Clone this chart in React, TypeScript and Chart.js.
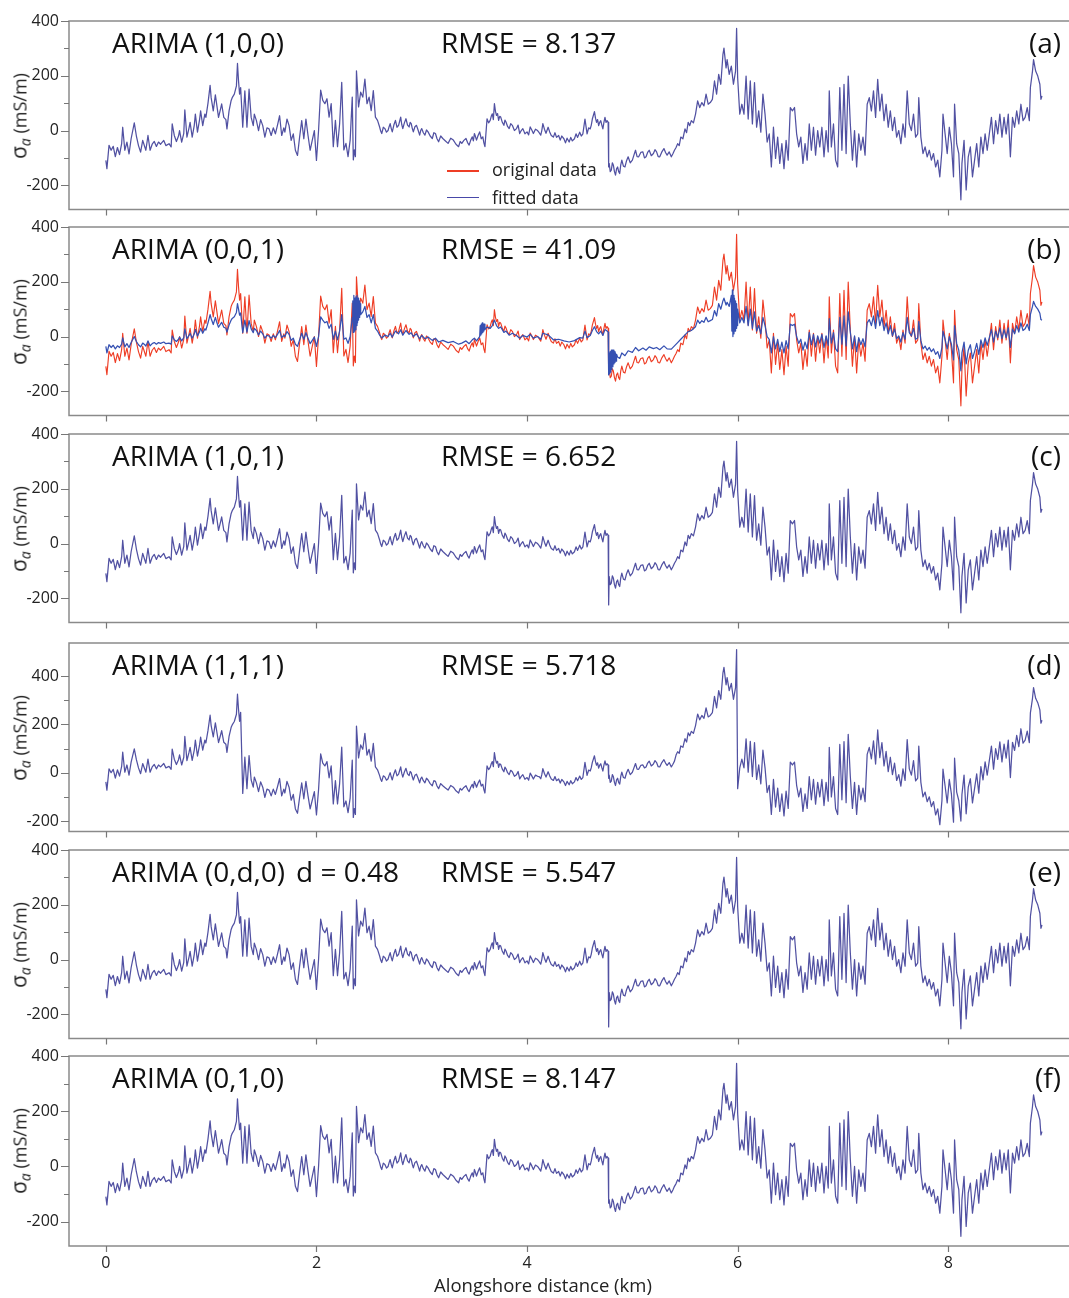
import React, { useEffect, useRef } from "react";
import { Chart, registerables } from "chart.js";

Chart.register(...registerables);

// Alongshore distance (km) of the measured series and of the fitted series in (a), (c)-(f)
const distanceKm = [
  0, 0.01, 0.03, 0.05, 0.07, 0.09, 0.11, 0.13, 0.15, 0.16, 0.18, 0.2, 0.22, 0.24, 0.27, 0.29, 0.31, 0.33, 0.35, 0.37, 0.38, 0.4, 0.42, 0.44, 0.46, 0.48, 0.5, 0.52, 0.55, 0.57, 0.6, 0.62, 0.63, 0.65, 0.67, 0.69, 0.7, 0.72, 0.74, 0.75, 0.77, 0.79, 0.8, 0.82, 0.84, 0.85, 0.87, 0.89, 0.9, 0.92, 0.94, 0.95, 0.97, 0.99,
  1, 1.02, 1.04, 1.05, 1.07, 1.09, 1.1, 1.12, 1.14, 1.15, 1.17, 1.19, 1.2, 1.22, 1.24, 1.25, 1.26, 1.27, 1.28, 1.3, 1.32, 1.34, 1.36, 1.38, 1.4, 1.41, 1.43, 1.45, 1.47, 1.49, 1.51, 1.53, 1.55, 1.57, 1.59, 1.61, 1.63, 1.65, 1.67, 1.69, 1.7, 1.72, 1.74, 1.76, 1.78, 1.8, 1.82, 1.84, 1.86, 1.88, 1.9, 1.92, 1.94, 1.96, 1.98,
  2, 2.02, 2.04, 2.06, 2.08, 2.1, 2.12, 2.14, 2.16, 2.18, 2.2, 2.22, 2.24, 2.26, 2.28, 2.3, 2.32, 2.34,
  2.35, 2.36, 2.37,
  2.38, 2.4, 2.42, 2.44, 2.46, 2.48, 2.5, 2.52, 2.54, 2.56, 2.58, 2.6, 2.61, 2.62, 2.635, 2.65, 2.665, 2.68, 2.69, 2.7, 2.71, 2.72, 2.735, 2.75, 2.765, 2.78, 2.79, 2.8, 2.81, 2.82, 2.835, 2.85, 2.865, 2.88, 2.89, 2.9, 2.91, 2.92, 2.935, 2.95, 2.965, 2.98, 2.99, 3, 3.015, 3.03, 3.045, 3.06, 3.08, 3.1, 3.115, 3.13, 3.145, 3.16, 3.18, 3.2, 3.225, 3.25, 3.275, 3.3, 3.325, 3.35, 3.365, 3.38, 3.4, 3.42, 3.435, 3.45, 3.465, 3.48, 3.49, 3.5, 3.51, 3.52, 3.535, 3.55, 3.565, 3.58, 3.59, 3.6,
  3.62, 3.635, 3.65, 3.66, 3.67, 3.68, 3.69, 3.7, 3.71, 3.72, 3.73, 3.74, 3.75, 3.765, 3.78, 3.79, 3.8, 3.815, 3.83, 3.845, 3.86, 3.88, 3.9, 3.915, 3.93, 3.945, 3.96, 3.98, 4, 4.015, 4.03, 4.045, 4.06, 4.08, 4.1, 4.115, 4.13, 4.14, 4.15, 4.165, 4.18, 4.2, 4.215, 4.23, 4.25, 4.265, 4.28, 4.3, 4.315, 4.33, 4.35, 4.365, 4.38, 4.4, 4.415, 4.43, 4.45, 4.465, 4.48, 4.5, 4.515, 4.53, 4.55, 4.57, 4.585, 4.6, 4.61, 4.62, 4.64, 4.65, 4.66, 4.67, 4.68, 4.69, 4.7, 4.71, 4.72, 4.73, 4.74, 4.75, 4.76, 4.77,
  4.775, 4.78, 4.79, 4.8, 4.81, 4.82, 4.83, 4.84, 4.85, 4.86, 4.87, 4.88, 4.89, 4.9, 4.915, 4.93, 4.945, 4.96, 4.98, 5, 5.015, 5.03, 5.045, 5.06, 5.08, 5.1, 5.115, 5.13, 5.145, 5.16, 5.18, 5.2, 5.215, 5.23, 5.245, 5.26, 5.28, 5.3, 5.315, 5.33, 5.35, 5.37, 5.385, 5.4, 5.415, 5.43, 5.445, 5.46, 5.48, 5.5, 5.515, 5.53, 5.545, 5.56, 5.58, 5.6,
  5.62, 5.64, 5.66, 5.68, 5.7, 5.72, 5.74, 5.76, 5.78, 5.8, 5.82, 5.84, 5.86, 5.87, 5.89, 5.9, 5.92, 5.94, 5.96, 5.98, 5.99,
  6, 6.02, 6.04, 6.06, 6.08, 6.1, 6.12, 6.14, 6.16, 6.18, 6.2, 6.22, 6.24, 6.26, 6.28, 6.3, 6.32, 6.34, 6.36, 6.38, 6.4, 6.42, 6.44, 6.46, 6.48, 6.5, 6.52, 6.54, 6.56, 6.58, 6.6, 6.62, 6.64, 6.66, 6.68, 6.7, 6.72, 6.74, 6.76, 6.78, 6.8, 6.82, 6.84, 6.86,
  6.87, 6.89, 6.91, 6.93, 6.95, 6.97, 6.99, 7.01, 7.03, 7.05, 7.07, 7.09, 7.11, 7.13, 7.15, 7.17, 7.19, 7.21,
  7.23, 7.25, 7.27, 7.29, 7.31, 7.33, 7.35, 7.37, 7.39, 7.41, 7.43, 7.45, 7.47, 7.49, 7.51, 7.53, 7.55, 7.57, 7.59, 7.61, 7.63, 7.65, 7.67, 7.69, 7.71,
  7.72, 7.74, 7.76, 7.78, 7.8, 7.82, 7.84, 7.86, 7.88, 7.9, 7.92, 7.94,
  7.95, 7.97, 7.99, 8.01, 8.03, 8.05,
  8.06, 8.08, 8.1, 8.12,
  8.13, 8.15, 8.17, 8.19, 8.21, 8.23, 8.25, 8.27, 8.29, 8.31, 8.33, 8.35, 8.37, 8.39, 8.41, 8.43, 8.45, 8.47, 8.49, 8.51, 8.53, 8.55, 8.57, 8.59, 8.61, 8.63, 8.65, 8.67, 8.69, 8.71, 8.73, 8.75, 8.77,
  8.78, 8.8, 8.81, 8.83, 8.85, 8.87, 8.88, 8.89,
];

// Original apparent conductivity (mS/m); the fitted series of (a), (c), (e), (f) coincide with it
const originalData = [
  -109, -139, -54, -72, -58, -95, -62, -88, -48, 12, -72, -42, -85, -30, 28, -20, -55, -79, -36, -60, -72, -18, -72, -50, -40, -58, -42, -50, -36, -55, -48, -60, 24, -18, -40, -20, 0, -42, -10, 75, -24, 10, 30, -24, 20, 60, -6, 40, 72, 18, 60, 48, 100, 165,
  120, 72, 130, 103, 48, 80, 97, 48, 40, 6, 72, 110, 120, 133, 163, 245, 181, 133, 157, 12, 145, 12, 151, 48, 18, 60, 36, 0, 40, 18, -24, 10, 6, -18, 10, -12, 20, 54, -18, 10, -6, 42, 18, -36, -12, -72, -91, -24, 36, -30, 42, -18, -72, -36, 0,
  -109, 0, 148, 110, 98, 116, 49, 98, -59, 37, -59, 25, 176, -71, -47, -95, -35, 122,
  -107, -71, -95,
  218, 86, 140, 122, 188, 98, 122, 73, 146, 49, 37, 13, -2, -11, 12, 7, -6, 0, 14, 25, 8, -5, 20, 37, 12, 19, 34, 49, 22, 7, 28, 43, 20, 13, 30, 25, 8, -5, 14, 19, 2, -17, 0, 7, -8, -17, 2, -5, -20, -29, -8, -11, -30, -41, -20, -29, -38, -47, -28, -35, -50, -59, -40, -47, -36, -29, -44, -53, -35, -23, -38, -11, -22, -35, -18, -5, -30, -23, -45, -59,
  43, 28, 37, 52, 61, 40, 98, 70, 55, 62, 37, 52, 49, 30, 19, 38, 31, 15, 7, 25, 19, 0, 7, 20, -11, 0, 7, -12, -5, -16, 13, 2, -11, 5, 0, -8, -17, 0, 25, 5, -10, 12, -5, -18, -24, -8, -25, -18, -35, -20, -30, -45, -28, -42, -25, -38, -30, -12, -25, -6, -20, -12, 42, -12, 10, 6, 20, 42, 69, 45, 30, 40, 18, 30, 36, 20, 6, 30, 48, 30, 36, 30,
  -133, -120, -150, -145, -118, -127, -150, -163, -140, -133, -150, -157, -125, -108, -130, -133, -110, -96, -118, -108, -90, -72, -95, -96, -80, -78, -100, -96, -80, -72, -92, -84, -70, -78, -95, -96, -78, -66, -80, -90, -78, -96, -85, -72, -62, -48, -55, -24, -30, 6, -8, 30, 18, 36, 28, 60,
  108, 84, 102, 90, 133, 96, 102, 114, 181, 133, 205, 169, 277, 301, 229, 259, 205, 235, 169, 217, 373,
  193, 60, 96, 60, 199, 42, 181, 24, 175, 12, 72, -6, 133, 60, -42, -12, -133, 12, -102, -24, -120, -48, -139, -36, -108, 84, 72, 84, -12, -60, -24, -120, -48, -108, 24, -72, 12, -90, 0, -60, 12, -96, 0, -78,
  145, -60, 24, -108, -133, 157, -72, 169, -84, 199, 24, -108, 0, -133, -12, -72, -24, -90,
  96, 120, 72, 145, 48, 187, 72, 133, 36, 96, 12, 72, 0, 48, -24, 0, -48, 24, -24, 145, 24, 0, 60, -24, -12,
  120, -24, -84, -60, -96, -72, -108, -84, -133, -108, -169, -72,
  60, -12, -84, 12, -48, -169,
  96, -48, -84, -253,
  -120, -36, -217, -96, -60, -169, -108, -48, -133, -24, -84, -12, -72, -12, 48, -48, 36, -12, 60, -24, 48, -12, 60, -96, 48, 12, 72, 24, 96, 36, 48, 84, 36,
  157, 217, 259, 217, 199, 169, 114, 126,
];

// ARIMA (1,1,1) fitted series, panel (d)
const fittedD = [
  -38, -72, 16, 0, 14, -22, 12, -14, 26, 85, 2, 32, -10, 44, 99, 54, 20, -4, 38, 14, 2, 56, 2, 24, 34, 16, 32, 24, 38, 20, 26, 14, 98, 56, 34, 54, 74, 32, 64, 150, 50, 85, 105, 51, 95, 135, 69, 115, 147, 93, 135, 123, 175, 238,
  195, 148, 206, 180, 125, 157, 174, 126, 118, 84, 150, 188, 198, 212, 242, 325, 262, 213, 250, -86, 64, -66, 71, -30, -60, -18, -42, -78, -38, -60, -102, -68, -72, -96, -68, -90, -58, -24, -96, -68, -84, -36, -60, -114, -90, -150, -168, -102, -42, -108, -36, -96, -150, -114, -78,
  -175, -70, 78, 40, 28, 46, -21, 28, -129, -33, -129, -45, 106, -141, -117, -165, -105, 52,
  -185, -149, -173,
  193, 61, 115, 97, 163, 73, 97, 48, 121, 24, 12, -12, -27, -36, -13, -18, -31, -25, -11, 0, -17, -30, -5, 12, -13, -6, 9, 24, -3, -18, 3, 18, -5, -12, 5, 0, -17, -30, -11, -6, -23, -42, -25, -18, -33, -42, -23, -30, -45, -54, -33, -36, -55, -66, -45, -54, -63, -72, -53, -60, -75, -84, -65, -72, -61, -54, -69, -78, -60, -48, -63, -36, -47, -60, -43, -30, -55, -48, -70, -84,
  28, 13, 22, 37, 46, 25, 83, 55, 40, 47, 22, 37, 34, 15, 4, 23, 16, 0, -8, 10, 4, -15, -8, 5, -26, -15, -8, -27, -20, -31, -2, -13, -26, -10, -15, -16, -25, -8, 17, -3, -18, 4, -13, -26, -32, -16, -33, -26, -43, -28, -38, -53, -36, -50, -33, -46, -38, -20, -33, -14, -28, -20, 43, -11, 11, 7, 21, 43, 70, 46, 31, 41, 19, 31, 37, 21, 7, 31, 49, 31, 37, 31,
  -23, -10, -40, -35, -8, -17, -40, -53, -30, -23, -40, -47, -15, 2, -20, -23, 0, 14, -8, 2, 20, 38, 15, 14, 30, 32, 20, 24, 40, 48, 28, 36, 50, 42, 25, 24, 42, 54, 40, 30, 42, 24, 35, 48, 73, 87, 80, 111, 105, 141, 127, 165, 153, 171, 163, 195,
  243, 219, 237, 225, 268, 231, 237, 249, 316, 268, 340, 304, 412, 436, 364, 394, 340, 370, 304, 352, 510,
  -66, 20, 56, 20, 140, 2, 130, -16, 125, -28, 32, -46, 93, 20, -82, -52, -173, -28, -142, -64, -160, -88, -179, -76, -148, 44, 32, 44, -52, -100, -64, -160, -88, -148, -16, -112, -28, -130, -40, -100, -28, -136, -40, -118,
  105, -100, -16, -148, -173, 117, -112, 129, -124, 159, -16, -148, -40, -173, -52, -112, -64, -120,
  76, 105, 57, 132, 36, 177, 62, 125, 28, 88, 4, 64, -8, 40, -32, -8, -56, 16, -32, 137, 16, -10, 50, -34, -22,
  110, -40, -100, -80, -120, -100, -140, -120, -175, -150, -215, -115,
  15, -55, -125, -28, -88, -205,
  60, -80, -115, -200,
  -90, -10, -170, -60, -25, -125, -65, -5, -85, 25, -30, 45, -10, 50, 110, 15, 100, 55, 128, 45, 118, 60, 135, -20, 126, 92, 155, 108, 182, 122, 135, 172, 125,
  248, 308, 352, 308, 290, 260, 205, 217,
];

// ARIMA (0,0,1) fitted series, panel (b)
const distanceB = [
  0, 0.01, 0.03, 0.05, 0.07, 0.09, 0.11, 0.13, 0.15, 0.16, 0.18, 0.2, 0.22, 0.24, 0.27, 0.29, 0.31, 0.33, 0.35, 0.37, 0.38, 0.4, 0.42, 0.44, 0.46, 0.48, 0.5, 0.52, 0.55, 0.57, 0.6, 0.62, 0.63, 0.65, 0.67, 0.69, 0.7, 0.72, 0.74, 0.75, 0.77, 0.79, 0.8, 0.82, 0.84, 0.85, 0.87, 0.89, 0.9, 0.92, 0.94, 0.95, 0.97, 0.99,
  1, 1.02, 1.04, 1.05, 1.07, 1.09, 1.1, 1.12, 1.14, 1.15, 1.17, 1.19, 1.2, 1.22, 1.24, 1.25, 1.26, 1.27, 1.28, 1.3, 1.32, 1.34, 1.36, 1.38, 1.4, 1.41, 1.43, 1.45, 1.47, 1.49, 1.51, 1.53, 1.55, 1.57, 1.59, 1.61, 1.63, 1.65, 1.67, 1.69, 1.7, 1.72, 1.74, 1.76, 1.78, 1.8, 1.82, 1.84, 1.86, 1.88, 1.9, 1.92, 1.94, 1.96, 1.98,
  2, 2.02, 2.04, 2.06, 2.08, 2.1, 2.12, 2.14, 2.16, 2.18, 2.2, 2.22, 2.24, 2.26, 2.28, 2.3, 2.32, 2.34,
  2.345, 2.35, 2.355, 2.36, 2.365, 2.37, 2.375, 2.38, 2.385, 2.39, 2.395, 2.4, 2.405, 2.41, 2.415, 2.42,
  2.44, 2.46, 2.48, 2.5, 2.52, 2.54, 2.56, 2.58, 2.6, 2.62, 2.65, 2.68, 2.7, 2.72, 2.75, 2.78, 2.8, 2.82, 2.85, 2.88, 2.9, 2.92, 2.95, 2.98, 3, 3.03, 3.06, 3.1, 3.13, 3.16, 3.2, 3.25, 3.3, 3.35, 3.38, 3.42, 3.45, 3.48, 3.5, 3.52, 3.55,
  3.555, 3.56, 3.565, 3.57, 3.575, 3.58, 3.585, 3.59, 3.595,
  3.6, 3.62, 3.65, 3.67, 3.69, 3.71, 3.73, 3.75, 3.78, 3.8, 3.83, 3.86, 3.9, 3.93, 3.96, 4, 4.03, 4.06, 4.1, 4.13, 4.15, 4.2, 4.25, 4.3, 4.35, 4.4, 4.45, 4.5, 4.53, 4.55, 4.57, 4.6, 4.62, 4.64, 4.66, 4.68, 4.7, 4.72, 4.74, 4.76, 4.77,
  4.775, 4.78, 4.785, 4.79, 4.795, 4.8, 4.805, 4.81, 4.815, 4.82, 4.825, 4.83, 4.835, 4.84, 4.845, 4.85,
  4.86, 4.88, 4.9, 4.93, 4.96, 5, 5.03, 5.06, 5.1, 5.13, 5.16, 5.2, 5.23, 5.26, 5.3, 5.33, 5.37, 5.4, 5.43, 5.46, 5.5, 5.53, 5.56, 5.6, 5.62, 5.64, 5.66, 5.68, 5.7, 5.72, 5.74, 5.76, 5.78, 5.8, 5.82, 5.84, 5.86, 5.87, 5.89, 5.9, 5.92, 5.94,
  5.945, 5.95, 5.955, 5.96, 5.965, 5.97, 5.975, 5.98, 5.985, 5.99, 5.995,
  6, 6.02, 6.04, 6.06, 6.08, 6.1, 6.12, 6.14, 6.16, 6.18, 6.2, 6.22, 6.24, 6.26, 6.28, 6.3, 6.32, 6.34, 6.36, 6.38, 6.4, 6.42, 6.44, 6.46, 6.48, 6.5, 6.52, 6.54, 6.56, 6.58, 6.6, 6.62, 6.64, 6.66, 6.68, 6.7, 6.72, 6.74, 6.76, 6.78, 6.8, 6.82, 6.84, 6.86,
  6.87, 6.89, 6.91, 6.93, 6.95, 6.97, 6.99, 7.01, 7.03, 7.05, 7.07, 7.09, 7.11, 7.13, 7.15, 7.17, 7.19, 7.21,
  7.23, 7.25, 7.27, 7.29, 7.31, 7.33, 7.35, 7.37, 7.39, 7.41, 7.43, 7.45, 7.47, 7.49, 7.51, 7.53, 7.55, 7.57, 7.59, 7.61, 7.63, 7.65, 7.67, 7.69, 7.71,
  7.72, 7.74, 7.76, 7.78, 7.8, 7.82, 7.84, 7.86, 7.88, 7.9, 7.92, 7.94,
  7.95, 7.97, 7.99, 8.01, 8.03, 8.05,
  8.06, 8.08, 8.1, 8.12,
  8.13, 8.15, 8.17, 8.19, 8.21, 8.23, 8.25, 8.27, 8.29, 8.31, 8.33, 8.35, 8.37, 8.39, 8.41, 8.43, 8.45, 8.47, 8.49, 8.51, 8.53, 8.55, 8.57, 8.59, 8.61, 8.63, 8.65, 8.67, 8.69, 8.71, 8.73, 8.75, 8.77,
  8.78, 8.8, 8.81, 8.83, 8.85, 8.87, 8.88, 8.89,
];

const fittedB = [
  -36, -60, -30, -40, -32, -45, -34, -40, -28, -5, -38, -26, -40, -22, 0, -18, -30, -38, -24, -30, -35, -16, -34, -26, -22, -28, -22, -25, -20, -26, -24, -28, 2, -12, -18, -10, -2, -16, -4, 28, -8, 4, 12, -6, 10, 26, 2, 18, 30, 12, 28, 24, 50, 80,
  66, 44, 70, 56, 34, 46, 52, 34, 30, 16, 42, 60, 66, 72, 88, 120, 100, 78, 86, 14, 60, 16, 58, 28, 14, 30, 22, 6, 20, 10, -6, 4, 2, -6, 4, -4, 8, 22, -4, 4, 0, 18, 8, -14, -6, -28, -36, -12, 12, -10, 14, -6, -26, -14, -2,
  -36, 0, 72, 60, 50, 55, 30, 45, -10, 20, -12, 20, 80, -10, -5, -25, 0, 70,
  130, 15, 150, 20, 140, 25, 145, 40, 150, 50, 140, 60, 130, 70, 120, 80,
  90, 110, 70, 80, 50, 80, 30, 20, 5, -5, 5, 0, 12, -2, 20, 10, 25, 5, 22, 8, 14, 0, 10, -8, 4, -8, -2, -14, -6, -20, -14, -22, -18, -28, -24, -16, -26, -12, -6, -16, 0,
  40, 5, 45, 10, 50, 15, 45, 20, 45,
  25, 35, 30, 40, 60, 40, 30, 35, 15, 20, 5, 12, 4, -6, 4, -2, 8, -6, 0, -10, 12, 6, -12, -10, -16, -20, -15, -4, -6, 20, -4, 4, 22, 36, 18, 10, 20, 4, 26, 20, 16,
  -140, -60, -135, -55, -130, -50, -120, -50, -110, -50, -100, -55, -95, -60, -90, -65,
  -75, -80, -60, -70, -52, -58, -40, -52, -42, -50, -38, -44, -40, -48, -34, -45, -46, -34, -22, -10, 6, 18, 22, 36, 60, 48, 58, 52, 70, 54, 58, 62, 95, 75, 120, 100, 130, 140, 115, 125, 110, 150,
  20, 170, 0, 150, 10, 140, 20, 130, 30, 120, 40,
  100, 50, 70, 50, 110, 40, 100, 30, 90, 20, 40, 10, 70, 40, 0, -10, -60, 0, -45, -10, -55, -20, -60, -15, -45, 45, 40, 45, 0, -25, -10, -50, -20, -45, 15, -30, 8, -38, 2, -24, 8, -40, 2, -32,
  65, -24, 14, -45, -55, 70, -28, 75, -34, 90, 15, -45, 2, -55, -4, -30, -8, -38,
  50, 62, 40, 75, 30, 95, 40, 70, 22, 50, 10, 40, 2, 28, -8, 2, -20, 14, -10, 70, 14, 2, 30, -10, -5,
  55, -15, -45, -35, -50, -40, -55, -45, -65, -55, -80, -40,
  20, -10, -45, 0, -28, -85,
  40, -25, -50, -125,
  -60, -20, -100, -50, -30, -80, -55, -25, -65, -12, -40, -5, -32, -4, 25, -20, 20, -4, 32, -8, 25, -4, 32, -40, 28, 10, 40, 16, 50, 22, 28, 45, 22,
  80, 110, 128, 110, 100, 85, 62, 60,
];

// Single-sample overshoot of the fitted series at the step near 4.775 km
const spikeDistance = 4.775;
const fittedCSpike = -224;
const fittedESpike = -246;

const xTickValues = [0, 2, 4, 6, 8];
const yMajorTicks = [400, 200, 0, -200];
const yMinorTicks = [300, 100, -100];

const FONT = "'Open Sans', 'DejaVu Sans', sans-serif";
const FITTED_COLOR = "#5151a2";
const B_FITTED_COLOR = "#3550b2";
const ORIGINAL_COLOR = "#ee3d25";
const FRAME_COLOR = "#8a8a8a";

const PAD_TOP = 14;
const PLOT_H = 190;
const AXIS_LEFT = 69;

function withSpike(values: number[], spike: number) {
  return values.map((v, i) => (distanceKm[i] === spikeDistance ? spike : v));
}

const framePlugin = {
  id: "frame",
  afterDraw(chart: any) {
    const { ctx, chartArea, scales } = chart;
    const { left, right, top, bottom } = chartArea;
    ctx.save();
    ctx.strokeStyle = FRAME_COLOR;
    ctx.lineWidth = 1.5;
    ctx.beginPath();
    ctx.moveTo(right + 2, top);
    ctx.lineTo(left, top);
    ctx.lineTo(left, bottom);
    ctx.lineTo(right + 2, bottom);
    ctx.stroke();
    ctx.lineWidth = 1.2;
    ctx.strokeStyle = "#777";
    ctx.beginPath();
    for (const v of yMajorTicks) {
      const py = Math.round(scales.y.getPixelForValue(v)) + 0.5;
      ctx.moveTo(left - 8, py);
      ctx.lineTo(left, py);
    }
    for (const v of yMinorTicks) {
      const py = Math.round(scales.y.getPixelForValue(v)) + 0.5;
      ctx.moveTo(left - 5, py);
      ctx.lineTo(left, py);
    }
    for (const v of xTickValues) {
      const px = Math.round(scales.x.getPixelForValue(v)) + 0.5;
      ctx.moveTo(px, bottom);
      ctx.lineTo(px, bottom + 6);
    }
    ctx.stroke();
    ctx.restore();
  },
};

type Series = { xs: number[]; ys: number[]; color: string; width: number };

type PanelSpec = {
  key: string;
  top: number;
  yMin: number;
  yMax: number;
  series: Series[];
  model: string;
  extra?: string;
  rmse: string;
  legend?: boolean;
  bottom?: boolean;
};

const panels: PanelSpec[] = [
  {
    key: "(a)", top: 21, yMin: -288, yMax: 400, model: "ARIMA (1,0,0)", rmse: "RMSE = 8.137", legend: true,
    series: [{ xs: distanceKm, ys: originalData, color: FITTED_COLOR, width: 1.25 }],
  },
  {
    key: "(b)", top: 227, yMin: -288, yMax: 400, model: "ARIMA (0,0,1)", rmse: "RMSE = 41.09",
    series: [
      { xs: distanceB, ys: fittedB, color: B_FITTED_COLOR, width: 1.25 },
      { xs: distanceKm, ys: originalData, color: ORIGINAL_COLOR, width: 1.15 },
    ],
  },
  {
    key: "(c)", top: 434, yMin: -288, yMax: 400, model: "ARIMA (1,0,1)", rmse: "RMSE = 6.652",
    series: [{ xs: distanceKm, ys: withSpike(originalData, fittedCSpike), color: FITTED_COLOR, width: 1.25 }],
  },
  {
    key: "(d)", top: 643, yMin: -243, yMax: 537, model: "ARIMA (1,1,1)", rmse: "RMSE = 5.718",
    series: [{ xs: distanceKm, ys: fittedD, color: FITTED_COLOR, width: 1.25 }],
  },
  {
    key: "(e)", top: 850, yMin: -288, yMax: 400, model: "ARIMA (0,d,0)", extra: "d = 0.48", rmse: "RMSE = 5.547",
    series: [{ xs: distanceKm, ys: withSpike(originalData, fittedESpike), color: FITTED_COLOR, width: 1.25 }],
  },
  {
    key: "(f)", top: 1056, yMin: -288, yMax: 400, model: "ARIMA (0,1,0)", rmse: "RMSE = 8.147", bottom: true,
    series: [{ xs: distanceKm, ys: originalData, color: FITTED_COLOR, width: 1.25 }],
  },
];

function Panel({ spec }: { spec: PanelSpec }) {
  const ref = useRef<HTMLCanvasElement | null>(null);
  const axisH = spec.bottom ? 32 : 10;
  const height = PAD_TOP + PLOT_H + axisH;

  useEffect(() => {
    if (!ref.current) return;
    const chart = new Chart(ref.current, {
      type: "line",
      data: {
        datasets: spec.series.map((s) => ({
          data: s.xs.map((x, i) => ({ x, y: s.ys[i] })),
          borderColor: s.color,
          borderWidth: s.width,
          pointRadius: 0,
          tension: 0,
          fill: false,
          borderJoinStyle: "round" as const,
        })),
      },
      options: {
        animation: false,
        responsive: false,
        maintainAspectRatio: false,
        layout: { padding: { top: PAD_TOP, right: 0, bottom: 0, left: 0 } },
        plugins: { legend: { display: false }, tooltip: { enabled: false } },
        scales: {
          x: {
            type: "linear",
            min: -0.35,
            max: -0.35 + 1000 / 105.3,
            border: { display: false },
            grid: { display: false, drawTicks: true, tickLength: 6 },
            ticks: {
              display: !!spec.bottom,
              color: "#222",
              font: { family: FONT, size: 16 },
              padding: 2,
              maxRotation: 0,
            },
            afterBuildTicks: (s: any) => {
              s.ticks = xTickValues.map((v) => ({ value: v }));
            },
            afterFit: (s: any) => {
              s.height = axisH;
            },
          },
          y: {
            type: "linear",
            min: spec.yMin,
            max: spec.yMax,
            border: { display: false },
            grid: { display: false, drawTicks: true, tickLength: 8 },
            ticks: {
              color: "#222",
              font: { family: FONT, size: 16 },
              padding: 2,
            },
            afterBuildTicks: (s: any) => {
              s.ticks = yMajorTicks.map((v) => ({ value: v }));
            },
            afterFit: (s: any) => {
              s.width = AXIS_LEFT;
            },
          },
        },
      },
      plugins: [framePlugin],
    } as any);
    return () => chart.destroy();
  }, [spec]);

  const titleTop = spec.top + 6.6;
  const textStyle: React.CSSProperties = {
    position: "absolute",
    top: titleTop,
    fontSize: 28,
    lineHeight: "28px",
    color: "#111",
    whiteSpace: "nowrap",
    fontFamily: FONT,
  };

  return (
    <>
      <canvas
        ref={ref}
        width={1069}
        height={height}
        style={{ position: "absolute", left: 0, top: spec.top - PAD_TOP, width: 1069, height }}
      />
      <div style={{ ...textStyle, left: 112 }}>{spec.model}</div>
      {spec.extra && <div style={{ ...textStyle, left: 296 }}>{spec.extra}</div>}
      <div style={{ ...textStyle, left: 441 }}>{spec.rmse}</div>
      <div style={{ ...textStyle, right: 1069 - 1061, textAlign: "right" }}>{spec.key}</div>
      <div
        style={{
          position: "absolute",
          left: 22,
          top: spec.top + PLOT_H / 2,
          transform: "translate(-50%, -50%) rotate(-90deg)",
          whiteSpace: "nowrap",
          fontFamily: FONT,
          fontSize: 18,
          lineHeight: "20px",
          color: "#222",
        }}
      >
        <span style={{ fontSize: 21 }}>σ</span>
        <sub style={{ fontStyle: "italic", fontSize: 14, verticalAlign: "-4px" }}>a</sub>
        {" (mS/m)"}
      </div>
      {spec.legend && (
        <>
          <div style={{ position: "absolute", left: 447, top: 170, width: 32, height: 1.5, background: ORIGINAL_COLOR }} />
          <div style={{ position: "absolute", left: 447, top: 196.5, width: 32, height: 1.5, background: "#4848a8" }} />
          <div style={{ position: "absolute", left: 492, top: 160, fontSize: 18, lineHeight: "18px", fontFamily: FONT, color: "#222", whiteSpace: "nowrap" }}>
            original data
          </div>
          <div style={{ position: "absolute", left: 492, top: 188, fontSize: 18, lineHeight: "18px", fontFamily: FONT, color: "#222", whiteSpace: "nowrap" }}>
            fitted data
          </div>
        </>
      )}
    </>
  );
}

export default function App() {
  return (
    <div
      style={{
        position: "absolute",
        left: 0,
        top: 0,
        width: 1069,
        height: 1298,
        background: "#fff",
        overflow: "hidden",
        fontFamily: FONT,
      }}
    >
      {panels.map((p) => (
        <Panel key={p.key} spec={p} />
      ))}
      <div
        style={{
          position: "absolute",
          left: 543,
          top: 1276,
          transform: "translateX(-50%)",
          fontSize: 18.5,
          lineHeight: "18.5px",
          fontFamily: FONT,
          color: "#222",
          whiteSpace: "nowrap",
        }}
      >
        Alongshore distance (km)
      </div>
    </div>
  );
}
